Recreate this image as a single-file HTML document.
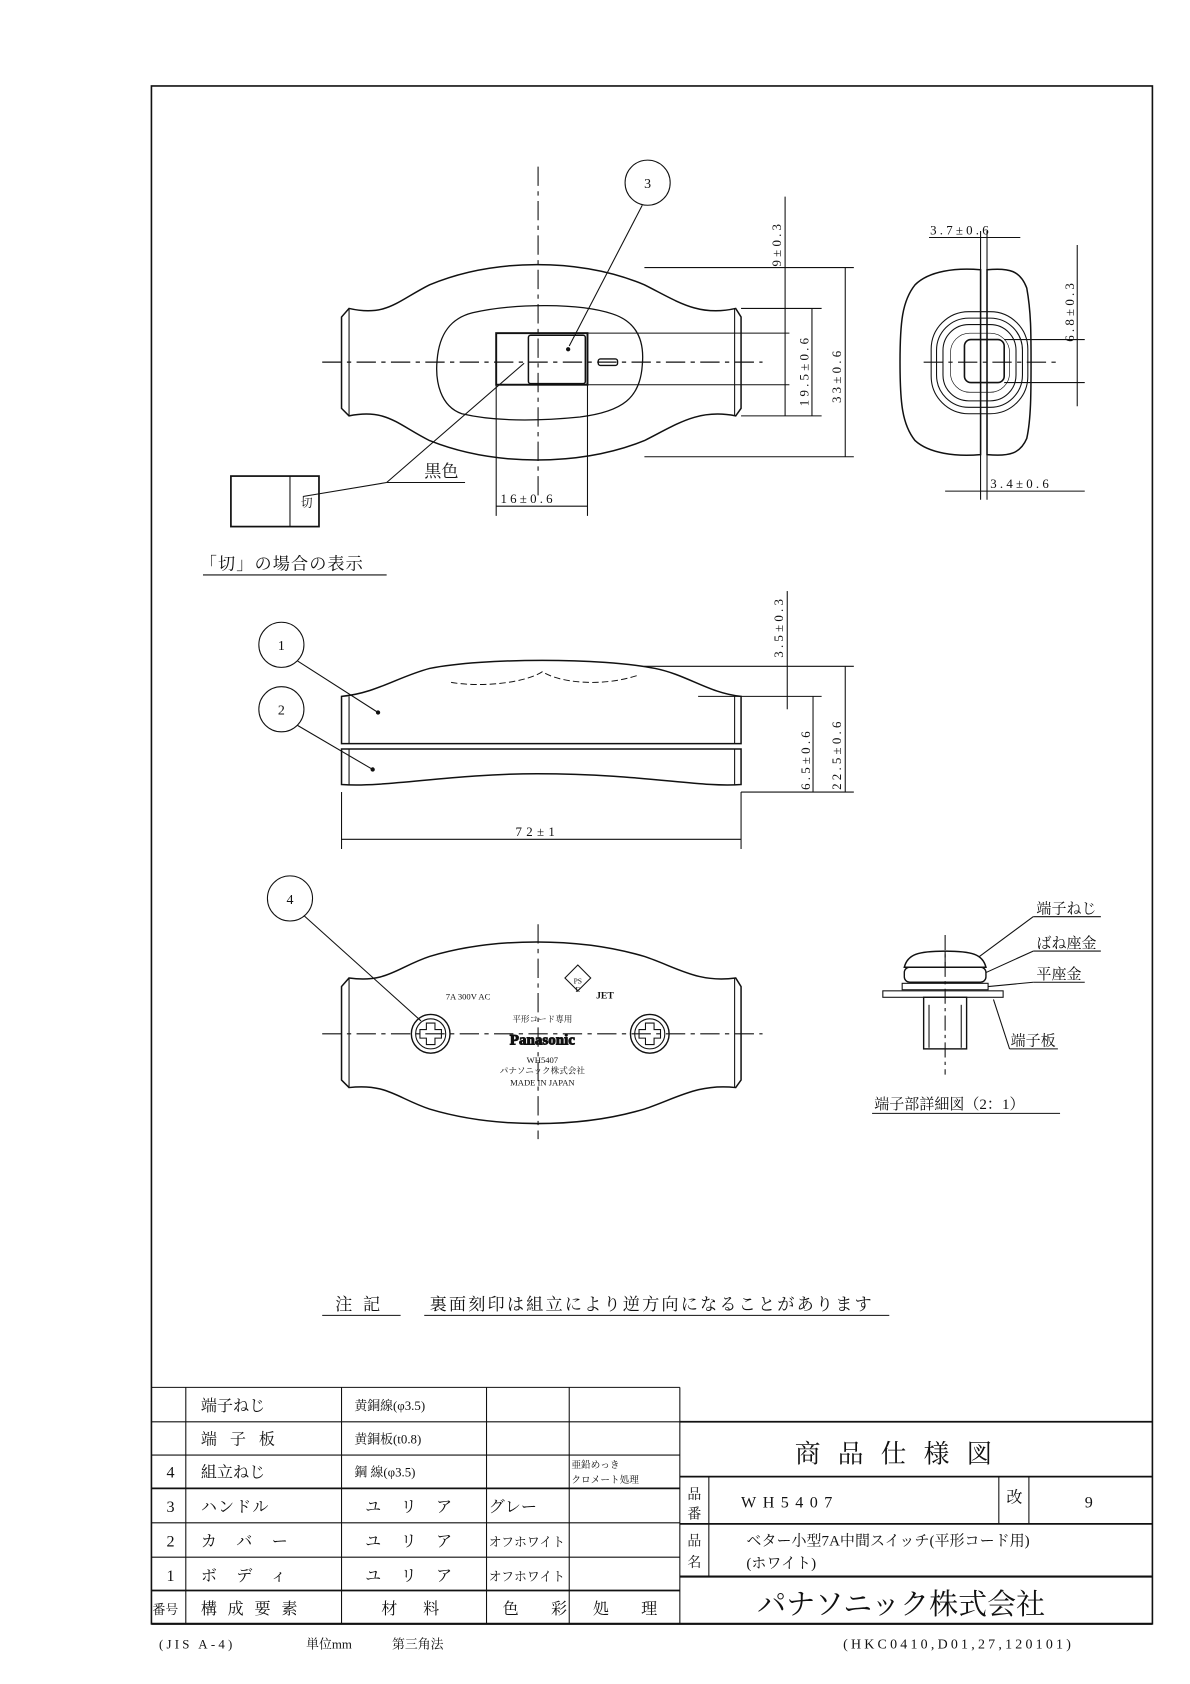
<!DOCTYPE html>
<html><head><meta charset="utf-8"><style>
html,body{margin:0;padding:0;background:#fff;}
svg{display:block;}
text{font-family:"Liberation Serif","Noto Serif CJK SC","Noto Sans CJK JP",serif;fill:#111;}
</style></head><body>
<svg width="1190" height="1684" viewBox="0 0 1108 1567" preserveAspectRatio="none" xmlns="http://www.w3.org/2000/svg">
<g fill="none" stroke="#111" stroke-width="1">
<rect x="141" y="80" width="932" height="1431" stroke-width="1.5"/>

<!-- TOP VIEW -->
<path d="M325,287 C360,295 370,280 400,265 C460,240 540,240 600,265 C630,280 650,295 685,287 L690,295 L690,380 L685,387 C650,380 630,395 600,410 C540,434 460,434 400,410 C370,395 360,380 325,387 L318,380 L318,295 Z" stroke-width="1.4"/>
<line x1="325" y1="287" x2="325" y2="387"/><line x1="684" y1="287" x2="684" y2="387"/>
<path d="M440,291 C480,282 540,282 570,292 C595,300 600,320 598,340 C596,370 580,383 540,388 C500,392 460,392 430,385 C410,378 405,355 407,335 C409,310 420,296 440,291 Z" stroke-width="1.2"/>
<rect x="462" y="310" width="85" height="48" stroke-width="1.8"/>
<rect x="492" y="312" width="53" height="45" rx="2" stroke-width="1.4"/>
<rect x="557" y="334" width="18" height="6" rx="2" stroke-width="1.3"/>
<line x1="300" y1="337" x2="710" y2="337" stroke-dasharray="18,5,4,5" stroke-width="1.2"/>
<line x1="501" y1="155" x2="501" y2="465" stroke-dasharray="18,5,4,5"/>
<circle cx="603" cy="170" r="21"/>
<line x1="598" y1="191" x2="530" y2="322"/><circle cx="529" cy="325" r="1.5" fill="#111"/>
<line x1="600" y1="249" x2="795" y2="249"/><line x1="600" y1="425" x2="795" y2="425"/>
<line x1="690" y1="287" x2="765" y2="287"/><line x1="690" y1="387" x2="765" y2="387"/>
<line x1="547" y1="310" x2="735" y2="310"/><line x1="547" y1="358" x2="735" y2="358"/>
<line x1="731" y1="183" x2="731" y2="387"/>
<line x1="756" y1="287" x2="756" y2="387"/>
<line x1="787" y1="249" x2="787" y2="425"/>
<line x1="462" y1="358" x2="462" y2="480"/><line x1="547" y1="358" x2="547" y2="480"/>
<line x1="462" y1="471" x2="547" y2="471"/>
<line x1="360" y1="449" x2="433" y2="449"/>
<line x1="360" y1="449" x2="282" y2="462"/><line x1="360" y1="449" x2="488" y2="338"/>
<rect x="215" y="443" width="82" height="47" stroke-width="1.6"/>
<line x1="270" y1="443" x2="270" y2="490"/>
<line x1="189" y1="535" x2="360" y2="535"/>

<!-- END VIEW -->
<path d="M913,251 C890,249 865,252 852,265 C840,280 838,300 838,337 C838,375 840,395 852,410 C865,422 890,425 913,423 Z" stroke-width="1.4"/>
<path d="M919,251 C940,249 950,252 956,268 C960,290 960,310 960,337 C960,365 960,390 956,408 C950,422 940,425 919,423 Z" stroke-width="1.4"/>
<rect x="867" y="290" width="90" height="95" rx="35"/>
<rect x="872" y="296" width="80" height="83" rx="30"/>
<rect x="878" y="302" width="68" height="71" rx="24"/>
<rect x="885" y="310" width="55" height="55" rx="18" stroke-width="0.6"/>
<rect x="898" y="316" width="37" height="40" rx="6" stroke-width="1.5"/>
<line x1="860" y1="337" x2="985" y2="337" stroke-dasharray="18,5,4,5"/>
<line x1="913" y1="215" x2="913" y2="465"/><line x1="919" y1="215" x2="919" y2="465"/>
<line x1="865" y1="221" x2="950" y2="221"/>
<line x1="880" y1="457" x2="1010" y2="457"/>
<line x1="935" y1="316" x2="1010" y2="316"/><line x1="935" y1="356" x2="1010" y2="356"/>
<line x1="1003" y1="228" x2="1003" y2="378"/>

<!-- SIDE VIEW -->
<path d="M318,648 C350,645 370,630 400,622 C450,612 560,612 610,622 C640,628 660,645 690,648 L690,692 L318,692 Z" stroke-width="1.4"/>
<path d="M318,697 L690,697 L690,730 C650,733 600,720 500,720 C420,720 360,733 318,730 Z" stroke-width="1.4"/>
<line x1="325" y1="648" x2="325" y2="692"/><line x1="684" y1="648" x2="684" y2="692"/>
<line x1="325" y1="697" x2="325" y2="730"/><line x1="684" y1="697" x2="684" y2="730"/>
<path d="M420,635 C450,640 490,635 505,625 C520,635 560,640 595,628" stroke-dasharray="6,3" stroke-width="0.9"/>
<circle cx="262" cy="600" r="21"/><circle cx="262" cy="660" r="21"/>
<line x1="277" y1="615" x2="352" y2="663"/><line x1="277" y1="675" x2="347" y2="716"/>
<circle cx="352" cy="663" r="1.5" fill="#111"/><circle cx="347" cy="716" r="1.5" fill="#111"/>
<line x1="600" y1="620" x2="795" y2="620"/><line x1="650" y1="648" x2="765" y2="648"/>
<line x1="690" y1="737" x2="795" y2="737"/>
<line x1="733" y1="550" x2="733" y2="660"/>
<line x1="757" y1="648" x2="757" y2="737"/>
<line x1="787" y1="620" x2="787" y2="737"/>
<line x1="318" y1="737" x2="318" y2="790"/><line x1="690" y1="737" x2="690" y2="790"/>
<line x1="318" y1="781" x2="690" y2="781"/>

<!-- BOTTOM VIEW -->
<path d="M325,910 C360,915 370,900 400,890 C460,872 540,872 600,890 C630,900 650,915 685,910 L690,918 L690,1005 L685,1012 C650,1008 630,1022 600,1032 C540,1050 460,1050 400,1032 C370,1022 360,1008 325,1012 L318,1005 L318,918 Z" stroke-width="1.4"/>
<line x1="325" y1="910" x2="325" y2="1012"/><line x1="684" y1="910" x2="684" y2="1012"/>
<line x1="300" y1="962" x2="710" y2="962" stroke-dasharray="18,5,4,5"/>
<line x1="501" y1="860" x2="501" y2="1060" stroke-dasharray="18,5,4,5"/>
<circle cx="401" cy="962" r="18" stroke-width="1.3"/><circle cx="401" cy="962" r="14"/>
<circle cx="605" cy="962" r="18" stroke-width="1.3"/><circle cx="605" cy="962" r="14"/>
<path d="M397,952 h8 v6 h6 v8 h-6 v6 h-8 v-6 h-6 v-8 h6 z"/>
<path d="M601,952 h8 v6 h6 v8 h-6 v6 h-8 v-6 h-6 v-8 h6 z"/>
<circle cx="270" cy="836" r="21"/><line x1="283" y1="852" x2="392" y2="950"/>
<path d="M526,910 l12,-12 l12,12 l-12,12 z"/>
<path d="M842,900 C845,888 855,885 880,885 C905,885 915,888 918,900 Z" stroke-width="1.4"/>
<rect x="842" y="900" width="76" height="14" rx="5" stroke-width="1.3"/>
<rect x="840" y="915" width="80" height="6"/>
<rect x="822" y="922" width="112" height="6"/>
<rect x="860" y="928" width="40" height="48" stroke-width="1.3"/>
<line x1="880" y1="885" x2="880" y2="900"/>
<line x1="865" y1="935" x2="865" y2="975"/><line x1="895" y1="935" x2="895" y2="975"/>
<line x1="880" y1="870" x2="880" y2="1000" stroke-dasharray="14,4,3,4"/>
<line x1="962" y1="853" x2="1025" y2="853"/><line x1="962" y1="853" x2="912" y2="890"/>
<line x1="962" y1="885" x2="1025" y2="885"/><line x1="962" y1="885" x2="918" y2="905"/>
<line x1="962" y1="914" x2="1010" y2="914"/><line x1="962" y1="914" x2="920" y2="918"/>
<line x1="940" y1="976" x2="985" y2="976"/><line x1="940" y1="976" x2="925" y2="930"/>
<line x1="812" y1="1036" x2="987" y2="1036"/>
<line x1="300" y1="1224" x2="373" y2="1224"/><line x1="395" y1="1224" x2="828" y2="1224"/>

<!-- TABLE -->
<line x1="141" y1="1291" x2="633" y2="1291"/>
<line x1="141" y1="1323" x2="633" y2="1323"/>
<line x1="141" y1="1354" x2="633" y2="1354"/>
<line x1="141" y1="1385" x2="633" y2="1385" stroke-width="1.6"/>
<line x1="141" y1="1417" x2="633" y2="1417"/>
<line x1="141" y1="1449" x2="633" y2="1449"/>
<line x1="141" y1="1480" x2="633" y2="1480" stroke-width="1.6"/>
<line x1="141" y1="1511" x2="1073" y2="1511" stroke-width="2"/>
<line x1="173" y1="1291" x2="173" y2="1511"/>
<line x1="318" y1="1291" x2="318" y2="1511"/>
<line x1="453" y1="1291" x2="453" y2="1511"/>
<line x1="530" y1="1291" x2="530" y2="1511"/>
<line x1="633" y1="1291" x2="633" y2="1511"/>
<line x1="633" y1="1323" x2="1073" y2="1323" stroke-width="1.6"/>
<line x1="633" y1="1374" x2="1073" y2="1374" stroke-width="1.6"/>
<line x1="633" y1="1418" x2="1073" y2="1418" stroke-width="1.6"/>
<line x1="633" y1="1467" x2="1073" y2="1467" stroke-width="2"/>
<line x1="660" y1="1374" x2="660" y2="1467"/>
<line x1="930" y1="1374" x2="930" y2="1418"/>
<line x1="958" y1="1374" x2="958" y2="1418"/>
</g>

<g font-size="13">
<text x="603" y="175" text-anchor="middle">3</text>
<text x="262" y="605" text-anchor="middle">1</text>
<text x="262" y="665" text-anchor="middle">2</text>
<text x="270" y="841" text-anchor="middle">4</text>
<text x="466" y="468" font-size="12" letter-spacing="3">16±0.6</text>
<text x="866" y="218" font-size="12" letter-spacing="3">3.7±0.6</text>
<text x="922" y="454" font-size="12" letter-spacing="3">3.4±0.6</text>
<text x="480" y="778" font-size="12" letter-spacing="4">72±1</text>
<text transform="translate(727,248) rotate(-90)" font-size="12" letter-spacing="3">9±0.3</text>
<text transform="translate(753,378) rotate(-90)" font-size="12" letter-spacing="3">19.5±0.6</text>
<text transform="translate(783,375) rotate(-90)" font-size="12" letter-spacing="3">33±0.6</text>
<text transform="translate(1000,318) rotate(-90)" font-size="12" letter-spacing="3">6.8±0.3</text>
<text transform="translate(729,612) rotate(-90)" font-size="12" letter-spacing="3">3.5±0.3</text>
<text transform="translate(754,735) rotate(-90)" font-size="12" letter-spacing="3">6.5±0.6</text>
<text transform="translate(783,735) rotate(-90)" font-size="12" letter-spacing="3">22.5±0.6</text>
<text x="395" y="444" font-size="16">黒色</text>
<text x="186" y="530" font-size="16" letter-spacing="1">「切」の場合の表示</text>
<text x="280" y="472" font-size="11">切</text>
<text x="415" y="930" font-size="8">7A 300V AC</text>
<text x="555" y="929" font-size="9" font-family="Liberation Sans,sans-serif" font-weight="bold">JET</text>
<text x="538" y="915" font-size="7" text-anchor="middle">PS</text>
<text x="538" y="923" font-size="7" text-anchor="middle">E</text>
<text x="505" y="951" font-size="8" text-anchor="middle">平形コード専用</text>
<text x="505" y="972" font-size="14" text-anchor="middle" font-family="Liberation Sans,sans-serif" font-weight="bold" fill="#fff" stroke="#111" stroke-width="0.9">Panasonic</text>
<text x="505" y="989" font-size="8" text-anchor="middle">WH5407</text>
<text x="505" y="999" font-size="8" text-anchor="middle">パナソニック株式会社</text>
<text x="505" y="1010" font-size="8" text-anchor="middle">MADE IN JAPAN</text>
<text x="965" y="850" font-size="14">端子ねじ</text>
<text x="965" y="882" font-size="14">ばね座金</text>
<text x="965" y="911" font-size="14">平座金</text>
<text x="941" y="973" font-size="14">端子板</text>
<text x="814" y="1032" font-size="14">端子部詳細図（2：1）</text>
<text x="312" y="1219" font-size="16" letter-spacing="10">注記</text>
<text x="400" y="1219" font-size="16" letter-spacing="2">裏面刻印は組立により逆方向になることがあります</text>
</g>
<g font-size="15">
<text x="187" y="1313">端子ねじ</text>
<text x="187" y="1344" letter-spacing="12">端子板</text>
<text x="187" y="1375">組立ねじ</text>
<text x="187" y="1407" letter-spacing="1">ハンドル</text>
<text x="187" y="1439" letter-spacing="18">カバー</text>
<text x="187" y="1471" letter-spacing="18">ボディ</text>
<text x="187" y="1502" letter-spacing="10">構成要素</text>
<text x="155" y="1375">4</text><text x="155" y="1407">3</text><text x="155" y="1439">2</text><text x="155" y="1471">1</text>
<text x="142" y="1502" font-size="12">番号</text>
<text x="330" y="1312" font-size="12">黄銅線(φ3.5)</text>
<text x="330" y="1343" font-size="12">黄銅板(t0.8)</text>
<text x="330" y="1374" font-size="12">鋼 線(φ3.5)</text>
<text x="340" y="1407" letter-spacing="18">ユリア</text>
<text x="340" y="1439" letter-spacing="18">ユリア</text>
<text x="340" y="1471" letter-spacing="18">ユリア</text>
<text x="355" y="1502" letter-spacing="24">材料</text>
<text x="455" y="1407">グレー</text>
<text x="455" y="1439" font-size="12" fill="#555">オフホワイト</text>
<text x="455" y="1471" font-size="12" fill="#555">オフホワイト</text>
<text x="468" y="1502" letter-spacing="30">色彩</text>
<text x="552" y="1502" letter-spacing="30">処理</text>
<text x="532" y="1366" font-size="9">亜鉛めっき</text>
<text x="532" y="1380" font-size="9">クロメート処理</text>
<text x="740" y="1361" font-size="24" letter-spacing="16">商品仕様図</text>
<text x="640" y="1395" font-size="13">品</text><text x="640" y="1413" font-size="13">番</text>
<text x="640" y="1438" font-size="13">品</text><text x="640" y="1458" font-size="13">名</text>
<text x="690" y="1403" letter-spacing="6">WH5407</text>
<text x="937" y="1398">改</text>
<text x="1010" y="1403">9</text>
<text x="695" y="1438" font-size="14">ベター小型7A中間スイッチ(平形コード用)</text>
<text x="695" y="1459" font-size="14">(ホワイト)</text>
<text x="705" y="1502" font-size="27">パナソニック株式会社</text>
<text x="148" y="1534" font-size="12" letter-spacing="3">(JIS A-4)</text>
<text x="285" y="1534" font-size="12">単位mm</text>
<text x="365" y="1534" font-size="12">第三角法</text>
<text x="785" y="1534" font-size="13" letter-spacing="3">(HKC0410,D01,27,120101)</text>
</g>
</svg>
</body></html>
